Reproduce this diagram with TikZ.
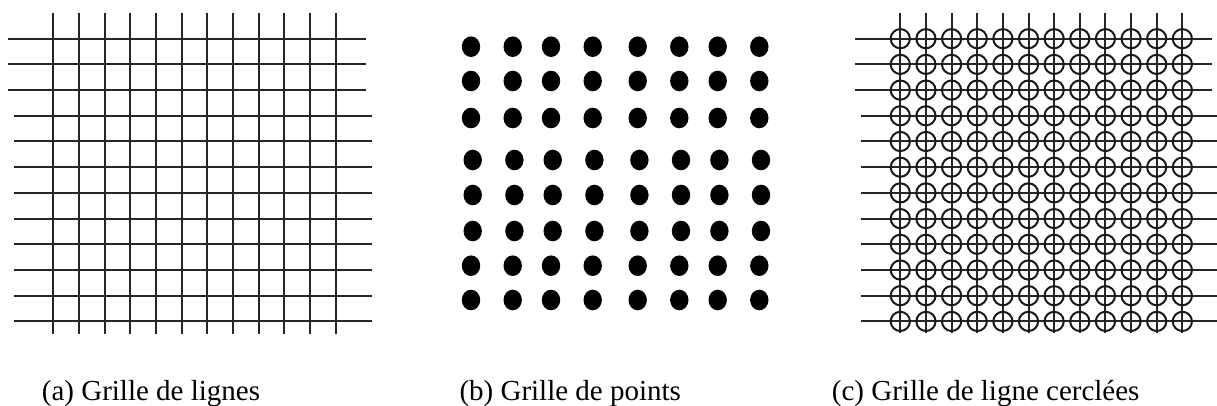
\documentclass[tikz,border=0pt]{standalone}
\usepackage{fontspec}
\setmainfont{Liberation Serif}
\begin{document}
\begin{tikzpicture}[x=1pt,y=-1pt,
  gridline/.style={line width=2pt, black!85},
  ringline/.style={line width=2pt, black!90},
  dotfill/.style={fill=black},
  caption/.style={anchor=base west, inner sep=0pt, font=\fontsize{29}{34}\selectfont}]
\useasboundingbox (0,0) rectangle (1217,406);
% ---------- (a) line grid ----------
\foreach \j in {0,...,11}
  \draw[gridline] ({53.3+25.67*\j},12.7) -- ({53.3+25.67*\j},334);
\foreach \i in {0,1,2}
  \draw[gridline] (8.3,{38.7+25.7*\i}) -- (365.7,{38.7+25.7*\i});
\foreach \i in {3,...,11}
  \draw[gridline] (14.3,{38.7+25.7*\i}) -- (371.7,{38.7+25.7*\i});
% ---------- (b) dot grid ----------
\foreach \y/\s in {46.7/0,81/0,118/0,160/1.7,195/1.7,231/1.7,265.7/0,300/0}
  \foreach \x in {471,512.7,551,592.7,637.7,679.3,717.7,759.3}
    \fill[dotfill] ({\x+\s},\y) ellipse[x radius=9.2, y radius=10.3];
% ---------- (c) circled line grid ----------
\foreach \j in {0,...,11}
  \draw[gridline] ({900.3+25.64*\j},12.7) -- ({900.3+25.64*\j},333);
\foreach \i in {0,1,2}
  \draw[gridline] (855,{38.7+25.7*\i}) -- (1212.3,{38.7+25.7*\i});
\foreach \i in {3,...,11}
  \draw[gridline] (860.7,{38.7+25.7*\i}) -- (1217,{38.7+25.7*\i});
\foreach \i in {0,...,11}
  \foreach \j in {0,...,11}
    \draw[ringline] ({900.3+25.64*\j},{38.7+25.7*\i}) circle[radius=9.6];
% ---------- captions ----------
\node[caption] (capa) at (41.7,400.5) {(a) Grille de lignes};
\node[caption] (capb) at (459.3,400.5) {(b) Grille de points};
\node[caption] (capc) at (831.7,400.5) {(c) Grille de ligne cerclées};
\end{tikzpicture}
\end{document}
